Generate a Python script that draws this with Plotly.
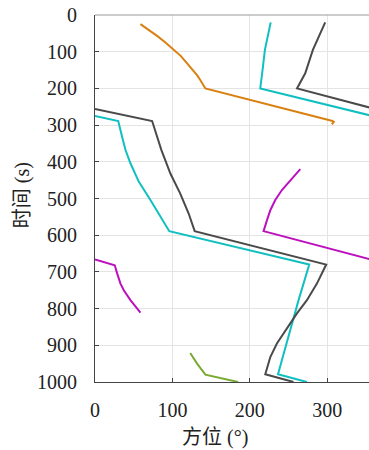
import plotly.graph_objects as go

# Bearing (deg) / time (s) tracks; None splits a track where it wraps past 360 deg
track_gray_az = [297.4, 291, 281.5, 271.6, 261, 360, None,
                 0, 73.8, 85.8, 97.4, 110, 121, 128.8, 298.7, 286.7, 273.8, 260.9, 248, 235, 226.5, 220, 256.5]
track_gray_t = [20, 50, 95, 159, 200, 255, None,
                256, 289, 368, 432, 486, 541, 589, 680, 732, 777, 813, 854, 895, 932, 979, 1000]

track_cyan_az = [227, 224.5, 222, 219.5, 217, 215.3, 213.5, 360, None,
                 0, 30, 35, 39.4, 45.8, 56.5, 71.6, 84.5, 96, 276.8, 263, 236.4, 273.8]
track_cyan_t = [20, 45, 68, 95, 141, 170, 200, 276, None,
                275, 289, 332, 368, 404, 454, 504, 550, 589, 680, 777, 979, 1000]

track_orange_az = [58.7, 70, 80.2, 91, 101.7, 111, 119, 126, 131.8, 136, 139.6, 142.6, 306.8, 308.5, 306]
track_orange_t = [25, 41, 57, 75, 94, 112, 132, 148, 164, 177, 191, 200, 289, 291, 298]

track_magenta_az = [265.2, 252.3, 241.5, 232.9, 226.5, 222.2, 217.8, 360, None,
                    0, 25.5, 28.6, 32.9, 37.2, 45.8, 58.7]
track_magenta_t = [420, 450, 477, 504, 532, 559, 589, 668, None,
                   666, 682, 704, 732, 750, 777, 811]

track_green_az = [123, 131.9, 142.6, 184.8]
track_green_t = [921, 950, 980, 1000]

x_ticks = [0, 100, 200, 300]
y_ticks = [0, 100, 200, 300, 400, 500, 600, 700, 800, 900, 1000]

tracks = [
    (track_orange_az, track_orange_t, "#DA8010"),
    (track_cyan_az, track_cyan_t, "#10BFC0"),
    (track_gray_az, track_gray_t, "#4A4A4A"),
    (track_magenta_az, track_magenta_t, "#BC10BE"),
    (track_green_az, track_green_t, "#78AA32"),
]

fig = go.Figure()
for az, t, color in tracks:
    fig.add_trace(go.Scatter(x=az, y=t, mode="lines",
                             line=dict(color=color, width=2),
                             connectgaps=False, showlegend=False))

axis_common = dict(showgrid=True, gridcolor="#E4E4E4", gridwidth=1, zeroline=False,
                   showline=True, linecolor="#444444", linewidth=1.2,
                   ticks="inside", ticklen=4, tickcolor="#444444", tickwidth=1,
                   tickfont=dict(size=20, color="#222222"))

fig.update_layout(
    width=369, height=450,
    margin=dict(l=95, r=0, t=15, b=68),
    font=dict(family="Liberation Serif, Noto Sans CJK SC", size=20, color="#222222"),
    plot_bgcolor="white", paper_bgcolor="white",
    xaxis=dict(range=[0, 354], tickvals=x_ticks, ticklabelstandoff=10, **axis_common),
    yaxis=dict(range=[1000, 0], tickvals=y_ticks, ticklabelstandoff=13, **axis_common),
    shapes=[dict(type="line", xref="paper", yref="paper", x0=0, x1=1, y0=1, y1=1,
                 line=dict(color="#9A9A9A", width=1.2))],
    annotations=[
        dict(text="方位 (°)", xref="paper", yref="paper", x=0.438, y=-0.150,
             xanchor="center", yanchor="middle", showarrow=False,
             font=dict(size=20)),
        dict(text="时间 (s)", xref="paper", yref="paper", x=-0.265, y=0.51,
             xanchor="center", yanchor="middle", showarrow=False, textangle=-90,
             font=dict(size=20)),
    ],
)

fig.write_html("out.html")
